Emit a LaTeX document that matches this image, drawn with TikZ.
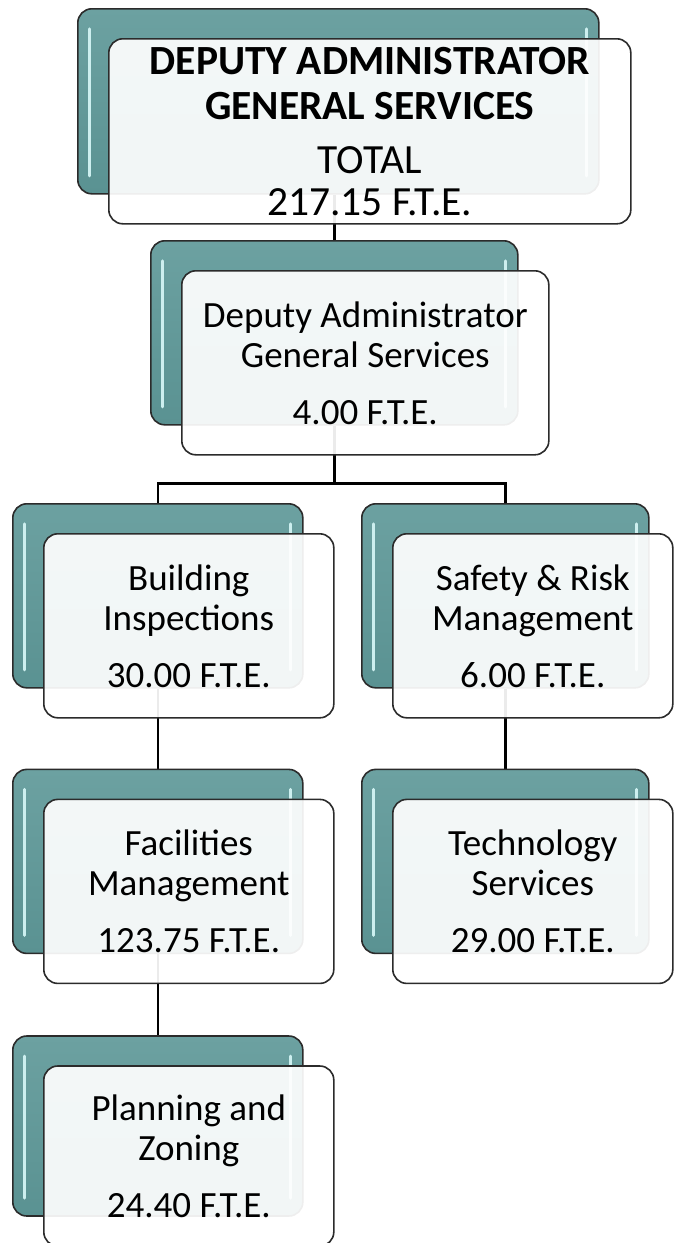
\documentclass[tikz,border=0pt]{standalone}
\usepackage{fontspec}
\setmainfont{Carlito}
\usetikzlibrary{positioning}
\usetikzlibrary{backgrounds}

\definecolor{cardteal}{HTML}{5A9292}
\definecolor{cardtealtop}{HTML}{6CA1A1}
\definecolor{cardshine}{HTML}{CDEFEF}
\definecolor{cardedge}{HTML}{2B2B2B}

\def\cardh{184pt}

\begin{document}
\begin{tikzpicture}[
    x=1pt, y=-1pt,
    % Back card: teal with two light streaks
    backbox/.style={rectangle, rounded corners=14pt, draw=cardedge, line width=1.6pt,
        top color=cardtealtop, bottom color=cardteal, inner sep=0pt,
        minimum height=\cardh, anchor=north west,
        path picture={
            \draw[cardshine, line width=3pt, line cap=round]
                ([shift={(12,20)}]path picture bounding box.north west) --
                ([shift={(12,-18)}]path picture bounding box.south west);
            \draw[cardshine, line width=3pt, line cap=round]
                ([shift={(-12,20)}]path picture bounding box.north east) --
                ([shift={(-12,-18)}]path picture bounding box.south east);
        }},
    % Front card: almost opaque white over the back card
    frontbox/.style={rectangle, rounded corners=14pt, draw=cardedge, line width=1.6pt,
        fill=white, fill opacity=0.92, text opacity=1, inner sep=0pt,
        minimum height=\cardh, align=center,
        font=\fontsize{37}{40}\selectfont},
    conn/.style={line width=2.6pt, black}
]

\useasboundingbox (0,0) rectangle (673,1243);

% Top card
\node[backbox, minimum width=521pt, minimum height=185pt] (totalbk) at (77,8) {};
\node[frontbox, minimum width=522pt, minimum height=185pt,
      below right=30pt and 31pt of totalbk.north west,
      font=\fontsize{41.5}{45}\selectfont] (total)
    {\textbf{DEPUTY ADMINISTRATOR}\\ \textbf{GENERAL SERVICES}\\[9pt] TOTAL\\[-3pt] 217.15 F.T.E.};

% Deputy administrator card
\node[backbox, minimum width=367pt] (dabk) at (150,240) {};
\node[frontbox, minimum width=367pt, below right=30pt and 31pt of dabk.north west] (da)
    {Deputy Administrator\\ General Services\\[17pt] 4.00 F.T.E.};

% Left column
\node[backbox, minimum width=290pt] (inspbk) at (12,503) {};
\node[frontbox, minimum width=290pt, below right=30pt and 31pt of inspbk.north west] (insp)
    {Building\\ Inspections\\[17pt] 30.00 F.T.E.};

\node[backbox, minimum width=290pt, below=80pt of inspbk] (facbk) {};
\node[frontbox, minimum width=290pt, below right=30pt and 31pt of facbk.north west] (fac)
    {Facilities\\ Management\\[17pt] 123.75 F.T.E.};

\node[backbox, minimum width=290pt, minimum height=180pt, below=81pt of facbk] (planbk) {};
\node[frontbox, minimum width=290pt, minimum height=180pt,
      below right=30pt and 31pt of planbk.north west] (plan)
    {Planning and\\ Zoning\\[17pt] 24.40 F.T.E.};

% Right column
\node[backbox, minimum width=287pt] (safebk) at (361,503) {};
\node[frontbox, minimum width=280pt, below right=30pt and 31pt of safebk.north west] (safe)
    {Safety \& Risk\\ Management\\[17pt] 6.00 F.T.E.};

\node[backbox, minimum width=287pt, below=80pt of safebk] (techbk) {};
\node[frontbox, minimum width=280pt, below right=30pt and 31pt of techbk.north west] (tech)
    {Technology\\ Services\\[17pt] 29.00 F.T.E.};

% Connectors behind the cards
\begin{scope}[on background layer]
    \draw[conn] (totalbk.south -| dabk.north) -- (dabk.north);
    \draw[conn] (dabk.south) -- ++(0,58) -| (inspbk.north);
    \draw[conn] (dabk.south) -- ++(0,58) -| (safebk.north);
    \draw[conn] (inspbk.south) -- (facbk.north);
    \draw[conn] (facbk.south) -- (planbk.north);
    \draw[conn] (safebk.south) -- (techbk.north);
\end{scope}

\end{tikzpicture}
\end{document}
